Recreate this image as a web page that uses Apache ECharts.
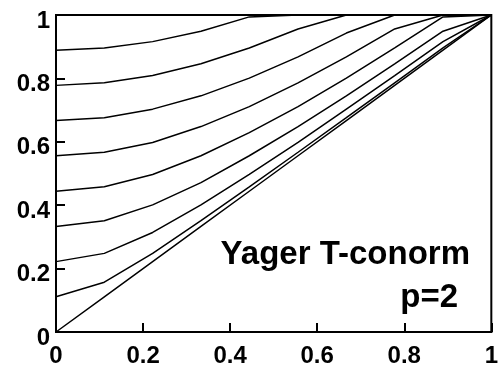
<!DOCTYPE html>
<html>
<head>
<meta charset="utf-8">
<script src="https://cdn.jsdelivr.net/npm/echarts@6/dist/echarts.min.js"></script>
<style>html,body{margin:0;padding:0;background:#fff}#c{width:501px;height:374px}</style>
</head>
<body>
<div id="c"></div>
<script>
// x sample points (a)
var xs = [0, 0.111, 0.222, 0.333, 0.444, 0.556, 0.667, 0.778, 0.889, 1];
// one curve per b value (b = 0, 1/9, ... 1)
var curveB0 = [0, 0.111, 0.222, 0.333, 0.444, 0.556, 0.667, 0.778, 0.889, 1];
var curveB1 = [0.111, 0.157, 0.248, 0.351, 0.458, 0.567, 0.676, 0.786, 0.896, 1];
var curveB2 = [0.222, 0.248, 0.314, 0.401, 0.497, 0.598, 0.703, 0.809, 0.916, 1];
var curveB3 = [0.333, 0.351, 0.401, 0.471, 0.556, 0.648, 0.745, 0.846, 0.949, 1];
var curveB4 = [0.444, 0.458, 0.497, 0.556, 0.629, 0.711, 0.801, 0.896, 0.994, 1];
var curveB5 = [0.556, 0.567, 0.598, 0.648, 0.711, 0.786, 0.868, 0.956, 1, 1];
var curveB6 = [0.667, 0.676, 0.703, 0.745, 0.801, 0.868, 0.943, 1, 1, 1];
var curveB7 = [0.778, 0.786, 0.809, 0.846, 0.896, 0.956, 1, 1, 1, 1];
var curveB8 = [0.889, 0.896, 0.916, 0.949, 0.994, 1, 1, 1, 1, 1];
var curveB9 = [1, 1, 1, 1, 1, 1, 1, 1, 1, 1];
var curves = [curveB0, curveB1, curveB2, curveB3, curveB4, curveB5, curveB6, curveB7, curveB8, curveB9];
var tickLabels = ['0', '0.2', '0.4', '0.6', '0.8', '1'];
var titleText = 'Yager T-conorm';
var subText = 'p=2';

var FONT = 'Liberation Sans';
function fmt(v) {
  var i = Math.round(v / 0.2);
  return tickLabels[i] !== undefined ? tickLabels[i] : '';
}
var series = curves.map(function (c, i) {
  return {
    type: 'line',
    name: 'b' + i,
    data: xs.map(function (x, j) { return [x, c[j]]; }),
    symbol: 'none',
    lineStyle: { color: '#000', width: 1.5 },
    silent: true,
    animation: false
  };
});
var chart = echarts.init(document.getElementById('c'));
chart.setOption({
  backgroundColor: '#fff',
  animation: false,
  grid: { left: 56, right: 9, top: 15, bottom: 42, show: true, borderColor: '#000', borderWidth: 2, backgroundColor: 'transparent' },
  xAxis: [{
    type: 'value', min: 0, max: 1, interval: 0.2,
    axisLine: { show: true, lineStyle: { color: '#000', width: 2 } },
    axisTick: { show: true, inside: true, length: 9, lineStyle: { color: '#000', width: 2 } },
    splitLine: { show: false },
    axisLabel: { formatter: fmt, color: '#000', fontFamily: FONT, fontWeight: 'bold', fontSize: 24, margin: 12 }
  }],
  yAxis: [{
    type: 'value', min: 0, max: 1, interval: 0.2,
    axisLine: { show: true, lineStyle: { color: '#000', width: 2 } },
    axisTick: { show: true, inside: true, length: 9, lineStyle: { color: '#000', width: 2 } },
    splitLine: { show: false },
    axisLabel: { formatter: fmt, color: '#000', fontFamily: FONT, fontWeight: 'bold', fontSize: 24, margin: 6, verticalAlign: 'top', lineHeight: 12 }
  }],
  series: series,
  graphic: [
    { type: 'text', right: 31, top: 238, style: { text: titleText, font: 'bold 33px "Liberation Sans", Arial, sans-serif', fill: '#000' } },
    { type: 'text', right: 43, top: 281, style: { text: subText, font: 'bold 33px "Liberation Sans", Arial, sans-serif', fill: '#000' } }
  ]
});
</script>
</body>
</html>
